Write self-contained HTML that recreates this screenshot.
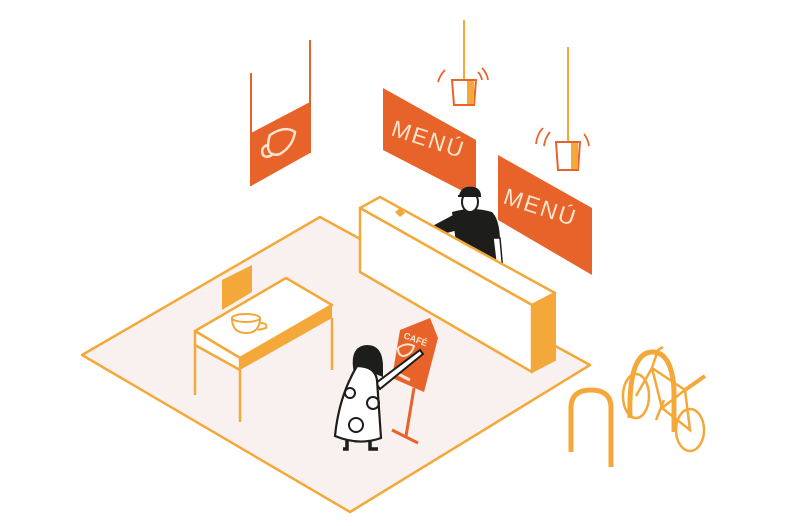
<!DOCTYPE html>
<html><head><meta charset="utf-8"><style>
html,body{margin:0;padding:0;background:#fff;}
svg{display:block;}
</style></head><body>
<svg width="789" height="526" viewBox="0 0 789 526" xmlns="http://www.w3.org/2000/svg" font-family="Liberation Sans, sans-serif">
<!-- floor -->
<polygon points="320,217 590,365 350,512 82,355" fill="#f8f1f0" stroke="#f5a83a" stroke-width="2.5" stroke-linejoin="round"/>
<!-- hanging left sign -->
<line x1="251" y1="73" x2="251" y2="186" stroke="#e8632a" stroke-width="2"/>
<line x1="310" y1="40" x2="310" y2="153" stroke="#e8632a" stroke-width="2"/>
<polygon points="251,133 310,102 310,153 251,186" fill="#e8632a"/>
<g fill="none" stroke="#fbe3cc" stroke-width="2.5" stroke-linecap="round">
<path d="M270,135 q15,-10 25,-3 q-2,14 -15,22 q-10,3 -12,-6 q0,-8 2,-13"/>
<path d="M268,145 q-8,2 -5,10 q4,4 10,-1"/>
</g>
<!-- lamps -->
<line x1="464" y1="20" x2="464" y2="80" stroke="#f5a83a" stroke-width="2"/>
<path d="M452,80 h24 l-2,25 h-20 z" fill="#fff" stroke="#e8632a" stroke-width="2"/>
<rect x="467" y="81" width="7" height="23" fill="#f5a83a"/>
<path d="M445,70 q-5,5 -7,12 M482,68 q5,5 6,12 M478,72 q3,3 4,8" stroke="#e8632a" stroke-width="1.8" fill="none"/>
<line x1="568" y1="47" x2="568" y2="142" stroke="#f5a83a" stroke-width="2"/>
<path d="M556,142 h24 l-2,28 h-20 z" fill="#fff" stroke="#e8632a" stroke-width="2"/>
<rect x="571" y="143" width="7" height="26" fill="#f5a83a"/>
<path d="M550,132 q-5,6 -6,14 M543,128 q-6,6 -7,16 M584,134 q4,5 5,12" stroke="#e8632a" stroke-width="1.8" fill="none"/>
<!-- menu signs -->
<polygon points="383,88 476,140 476,198 383,150" fill="#e8632a"/>
<text x="390" y="135" fill="#fbe3cc" font-size="23" transform="rotate(18 390 135)" letter-spacing="2">MENÚ</text>
<polygon points="498,155 592,208 592,275 498,220" fill="#e8632a"/>
<text x="502" y="203" fill="#fbe3cc" font-size="23" transform="rotate(18 502 203)" letter-spacing="2">MENÚ</text>
<!-- barista -->
<path d="M452,212 q20,-6 40,0 q8,8 8,30 l2,28 l-45,-20 z" fill="#1d1d1b"/>
<path d="M455,214 l-30,16 l3,8 l30,-8 z" fill="#1d1d1b"/>
<path d="M426,230 l6,6" stroke="#fff" stroke-width="2"/>
<path d="M493,238 l4,34 l6,0 l-3,-34 z" fill="#fff" stroke="#1d1d1b" stroke-width="1.5"/>
<ellipse cx="470" cy="202" rx="8" ry="10" fill="#fff" stroke="#1d1d1b" stroke-width="2"/>
<path d="M460,196 q2,-10 14,-8 q6,2 6,8 z M458,196 h6" fill="#1d1d1b" stroke="#1d1d1b" stroke-width="2"/>
<!-- counter -->
<polygon points="360,208 380,197 555,293 532,305" fill="#fff" stroke="#f5a83a" stroke-width="2.5" stroke-linejoin="round"/>
<polygon points="360,208 532,305 532,372 360,272" fill="#fff" stroke="#f5a83a" stroke-width="2.5" stroke-linejoin="round"/>
<polygon points="532,305 555,293 555,360 532,372" fill="#f5a83a" stroke="#f5a83a" stroke-width="2"/>
<polygon points="395,212 400,208 405,213 400,217" fill="#f5a83a"/>
<!-- chair -->
<polygon points="222,280 252,265 252,292 222,310" fill="#f5a83a"/>
<!-- table -->
<polygon points="195,331 286,278 332,305 240,358" fill="#fff" stroke="#f5a83a" stroke-width="2.5" stroke-linejoin="round"/>
<polygon points="195,331 240,358 240,370 195,345" fill="#fff" stroke="#f5a83a" stroke-width="2.5" stroke-linejoin="round"/>
<polygon points="240,358 332,305 332,318 240,370" fill="#f5a83a"/>
<g stroke="#f5a83a" stroke-width="2.5">
<line x1="195" y1="345" x2="195" y2="395"/><line x1="240" y1="370" x2="240" y2="422"/><line x1="332" y1="318" x2="332" y2="370"/>
</g>
<path d="M232,318 q0,15 14,15 q14,0 14,-15 z M260,323 q8,0 6,5 l-8,2" fill="none" stroke="#f5a83a" stroke-width="2"/>
<ellipse cx="246" cy="318" rx="14" ry="4" fill="#fff" stroke="#f5a83a" stroke-width="2"/>
<!-- sign stand -->
<line x1="414" y1="388" x2="406" y2="436" stroke="#e8632a" stroke-width="3"/>
<line x1="392" y1="430" x2="418" y2="443" stroke="#e8632a" stroke-width="3"/>
<polygon points="400,330 430,318 438,338 424,392 392,378" fill="#e8632a"/>
<text x="403" y="338" fill="#fbe3cc" font-size="9" font-weight="bold" transform="rotate(20 403 338)">CAFÉ</text>
<path d="M398,348 q8,-6 16,-2 q-2,8 -10,10 q-6,0 -6,-8" fill="none" stroke="#fbe3cc" stroke-width="2"/>
<line x1="398" y1="374" x2="410" y2="380" stroke="#fbe3cc" stroke-width="3"/>
<!-- woman -->
<path d="M376,383 L420,350 l3,4 L380,389 z" fill="#fff" stroke="#1d1d1b" stroke-width="2"/>
<path d="M355,378 q-8,-32 12,-33 q16,0 16,22 l0,10 l-10,-4 z" fill="#1d1d1b"/>
<path d="M357,366 q18,0 20,14 l4,58 q-22,8 -46,-2 q4,-40 22,-70 z" fill="#fff" stroke="#1d1d1b" stroke-width="2.2"/>
<g fill="none" stroke="#1d1d1b" stroke-width="2"><circle cx="356" cy="425" r="7"/><circle cx="373" cy="403" r="6"/><circle cx="350" cy="393" r="5"/></g>
<path d="M347,440 v9 h-4 M370,440 v9 h8" stroke="#1d1d1b" stroke-width="3.5" fill="none"/>
<!-- bike rack -->
<path d="M571,452 V408 q0,-18 20,-18 q20,0 20,18 V467" fill="none" stroke="#f5a83a" stroke-width="5"/>
<!-- bike -->
<g fill="none" stroke="#f5a83a" stroke-width="2.5">
<ellipse cx="636" cy="396" rx="13" ry="22"/>
<ellipse cx="690" cy="430" rx="14" ry="21"/>
<path d="M636,396 L652,368 L685,390 L690,430 L662,408 L652,368 M662,408 L685,390 M652,368 l6,-18 l5,-3"/>
<path d="M685,390 l20,-14" stroke-width="4"/>
<line x1="656" y1="420" x2="664" y2="400"/>
</g>
<path d="M630,418 q-2,-68 24,-66 q18,2 20,38 V432" fill="none" stroke="#f5a83a" stroke-width="5"/>
</svg>
</body></html>
